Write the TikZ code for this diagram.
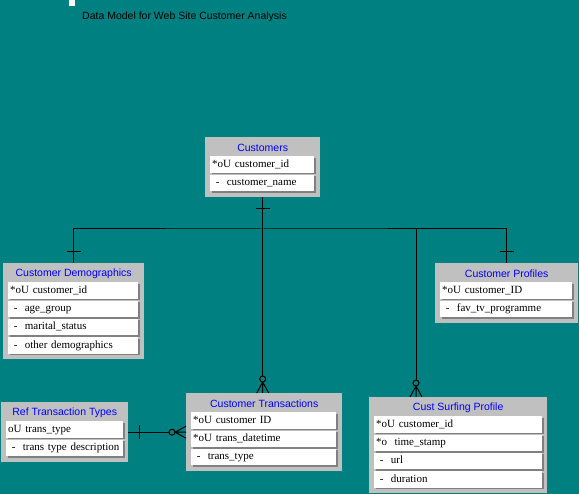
\documentclass[tikz,border=0pt]{standalone}
\usepackage{fontspec}
\setmainfont{Liberation Serif}
\setsansfont{Liberation Sans}
\usetikzlibrary{positioning, shadows}
\definecolor{bgteal}{HTML}{008080}
\definecolor{boxgray}{HTML}{C0C0C0}
\definecolor{rowshade}{HTML}{808080}
\tikzset{
  entity/.style = {rectangle, fill=boxgray, anchor=north west, inner sep=0pt},
  enttitle/.style = {font=\sffamily\fontsize{10.5}{12}\selectfont, text=blue, inner sep=0pt},
  attr/.style = {rectangle, fill=white, anchor=north west, inner xsep=2pt, inner ysep=0pt,
     minimum height=16.5pt, text height=8pt, text depth=2.5pt, align=left,
     font=\fontsize{11}{12}\selectfont,
     general shadow={fill=rowshade, shadow xshift=1.5pt, shadow yshift=-1.5pt}},
  rel/.style = {line width=1pt, black},
  crossbar/.pic = {\draw[rel] (-7,-11) -- (7,-11);},
  crowfoot/.pic = {\draw[rel] (0,-14) circle (3);
     \draw[rel] (0,-11) -- (-6,0) (0,-11) -- (0,0) (0,-11) -- (6,0);}
}

\begin{document}
\begin{tikzpicture}[x=1pt, y=-1pt]
  \fill[bgteal] (0,0) rectangle (579,494);
  \useasboundingbox (0,0) rectangle (579,494);
  \fill[white] (69,0) rectangle (75,6);
  \node[anchor=west, font=\sffamily\fontsize{10.5}{12}\selectfont, inner sep=0pt] (heading) at (82,17)
     {Data Model for Web Site Customer Analysis};

  % entities
  \node[entity, minimum width=115pt, minimum height=60pt] (cust) at (205,137) {};
  \node[enttitle] (custT) at ([yshift=-11pt]cust.north) {Customers};
  \node[attr, text width=100pt] (cust1) at ([xshift=5pt,yshift=-19pt]cust.north west) {*oU customer\_id};
  \node[attr, text width=100pt, below=1.5pt of cust1.south west, anchor=north west] (cust2) {\ -\ \ customer\_name};

  \node[entity, minimum width=141pt, minimum height=96pt] (demo) at (3,263) {};
  \node[enttitle] (demoT) at ([yshift=-11pt]demo.north) {Customer Demographics};
  \node[attr, text width=126pt] (demo1) at ([xshift=5pt,yshift=-19pt]demo.north west) {*oU customer\_id};
  \node[attr, text width=126pt, below=1.5pt of demo1.south west, anchor=north west] (demo2) {\ -\ \ age\_group};
  \node[attr, text width=126pt, below=1.5pt of demo2.south west, anchor=north west] (demo3) {\ -\ \ marital\_status};
  \node[attr, text width=126pt, below=1.5pt of demo3.south west, anchor=north west] (demo4) {\ -\ \ other demographics};

  \node[entity, minimum width=143pt, minimum height=60pt] (prof) at (435,263) {};
  \node[enttitle] (profT) at ([yshift=-11pt]prof.north) {Customer Profiles};
  \node[attr, text width=128pt] (prof1) at ([xshift=5pt,yshift=-19pt]prof.north west) {*oU customer\_ID};
  \node[attr, text width=128pt, below=1.5pt of prof1.south west, anchor=north west] (prof2) {\ -\ \ fav\_tv\_programme};

  \node[entity, minimum width=127pt, minimum height=60pt] (ref) at (1,402) {};
  \node[enttitle] (refT) at ([yshift=-11pt]ref.north) {Ref Transaction Types};
  \node[attr, text width=113pt] (ref1) at ([xshift=5pt,yshift=-19pt]ref.north west) {oU trans\_type};
  \node[attr, text width=113pt, below=1.5pt of ref1.south west, anchor=north west] (ref2) {\ -\ \ trans type description};

  \node[entity, minimum width=156pt, minimum height=78pt] (trans) at (186,393) {};
  \node[enttitle] (transT) at ([yshift=-11pt]trans.north) {Customer Transactions};
  \node[attr, text width=141pt] (trans1) at ([xshift=5pt,yshift=-19pt]trans.north west) {*oU customer ID};
  \node[attr, text width=141pt, below=1.5pt of trans1.south west, anchor=north west] (trans2) {*oU trans\_datetime};
  \node[attr, text width=141pt, below=1.5pt of trans2.south west, anchor=north west] (trans3) {\ -\ \ trans\_type};

  \node[entity, minimum width=178pt, minimum height=96pt] (surf) at (369,397) {};
  \node[enttitle] (surfT) at ([yshift=-11pt]surf.north) {Cust Surfing Profile};
  \node[attr, text width=164pt] (surf1) at ([xshift=5pt,yshift=-19pt]surf.north west) {*oU customer\_id};
  \node[attr, text width=164pt, below=1.5pt of surf1.south west, anchor=north west] (surf2) {*o\ \ time\_stamp};
  \node[attr, text width=164pt, below=1.5pt of surf2.south west, anchor=north west] (surf3) {\ -\ \ url};
  \node[attr, text width=164pt, below=1.5pt of surf3.south west, anchor=north west] (surf4) {\ -\ \ duration};

  % relationships
  \coordinate (bus) at (262,229);
  \coordinate (surfIn) at ([xshift=47pt]surf.north west);
  \draw[rel] (demo.north) |- (bus) -| (prof.north);
  \draw[rel, shorten >=17pt] (cust.south) -- (cust.south |- trans.north);
  \draw[rel, shorten <=17pt] (surfIn) -- (surfIn |- bus);
  \draw[rel, shorten >=16pt] (ref.east) -- (ref.east -| trans.west);

  \pic[rotate=180] at (cust.south) {crossbar};
  \pic at (demo.north) {crossbar};
  \pic at (prof.north) {crossbar};
  \pic[rotate=-90] at (ref.east) {crossbar};
  \pic at (cust.south |- trans.north) {crowfoot};
  \pic at (surfIn) {crowfoot};
  \pic[rotate=90] at (ref.east -| trans.west) {crowfoot};
\end{tikzpicture}
\end{document}
